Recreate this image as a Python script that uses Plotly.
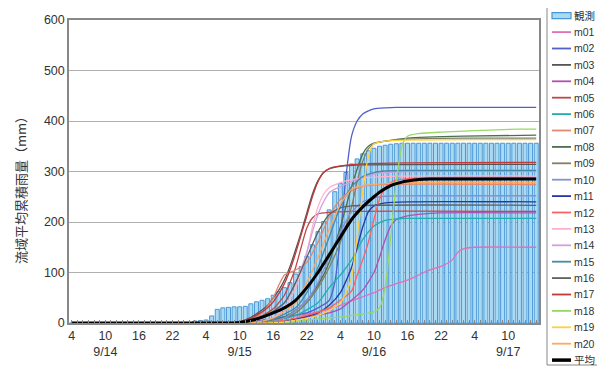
import plotly.graph_objects as go

# hours counted from 9/14 04:00, one bar per hour
hours = list(range(84))
obs = [0] * 22 + [4, 5, 6, 14, 27, 30, 31, 32, 32, 33, 38, 42, 45, 48, 55, 62, 70, 80,
                  97, 112, 132, 155, 181, 201, 224, 260, 276, 298, 315, 325, 335, 341,
                  346, 350, 352, 354, 355] + [356] * 25

tick_hours = [0, 6, 12, 18, 24, 30, 36, 42, 48, 54, 60, 66, 72, 78]
tick_text = ["4", "10<br>9/14", "16", "22", "4", "10<br>9/15", "16", "22",
             "4", "10<br>9/16", "16", "22", "4", "10<br>9/17"]

m01_t = [0, 29, 32, 36, 40, 44, 48, 50, 52, 54, 56, 58, 60, 62, 64, 66, 68, 69, 70, 72, 83]
m01_v = [0, 0, 3, 8, 14, 22, 35, 44, 52, 60, 70, 78, 85, 95, 105, 112, 125, 140, 147, 150, 150]
m02_t = [0, 30, 34, 38, 42, 44, 46, 47, 48, 49, 50, 51, 52, 53, 54, 56, 58, 83]
m02_v = [0, 0, 5, 12, 20, 30, 45, 80, 170, 290, 370, 400, 414, 420, 424, 426, 427, 427]
m03_t = [0, 29, 31, 33, 35, 36, 37, 38, 39, 40, 41, 42, 43, 44, 45, 46, 48, 52, 83]
m03_v = [0, 0, 6, 18, 35, 50, 65, 85, 112, 145, 180, 218, 255, 282, 298, 305, 310, 313, 314]
m04_t = [0, 34, 38, 42, 46, 48, 50, 52, 54, 55, 56, 57, 58, 60, 62, 66, 83]
m04_v = [0, 0, 5, 12, 20, 28, 45, 65, 100, 130, 165, 192, 205, 212, 215, 218, 218]
m05_t = [0, 30, 32, 34, 36, 38, 39, 40, 41, 42, 43, 44, 46, 50, 83]
m05_v = [0, 0, 5, 14, 28, 55, 80, 110, 150, 188, 208, 216, 219, 221, 221]
m06_t = [0, 32, 36, 40, 44, 46, 48, 50, 52, 54, 56, 58, 60, 83]
m06_v = [0, 0, 5, 15, 40, 70, 95, 125, 165, 192, 203, 206, 207, 207]
m07_t = [0, 30, 32, 34, 36, 37, 38, 40, 42, 44, 46, 48, 50, 52, 55, 83]
m07_v = [0, 0, 6, 20, 50, 75, 95, 105, 120, 160, 210, 245, 262, 270, 274, 274]
m08_t = [0, 32, 36, 38, 40, 42, 44, 46, 48, 49, 50, 51, 52, 53, 54, 56, 60, 70, 83]
m08_v = [0, 0, 5, 12, 25, 45, 75, 120, 190, 230, 270, 305, 335, 350, 356, 360, 366, 370, 372]
m09_t = [0, 34, 38, 40, 42, 44, 46, 48, 50, 51, 52, 53, 54, 56, 60, 70, 83]
m09_v = [0, 0, 10, 20, 40, 70, 110, 160, 230, 280, 320, 345, 355, 360, 364, 366, 366]
m10_t = [0, 34, 38, 40, 42, 44, 46, 48, 50, 52, 54, 56, 60, 83]
m10_v = [0, 0, 10, 25, 45, 80, 130, 180, 220, 240, 248, 251, 252, 252]
m11_t = [0, 36, 40, 44, 46, 48, 50, 51, 52, 53, 54, 56, 60, 83]
m11_v = [0, 0, 8, 20, 35, 60, 110, 150, 190, 220, 232, 238, 240, 240]
m12_t = [0, 34, 38, 42, 46, 48, 50, 51, 52, 53, 54, 55, 56, 57, 58, 60, 64, 83]
m12_v = [0, 0, 5, 15, 30, 45, 63, 95, 125, 160, 205, 245, 268, 278, 283, 286, 288, 288]
m13_t = [0, 32, 36, 38, 40, 42, 43, 44, 45, 46, 48, 50, 54, 58, 83]
m13_v = [0, 0, 10, 30, 70, 140, 190, 230, 255, 268, 278, 284, 289, 291, 291]
m14_t = [0, 31, 34, 36, 38, 40, 42, 43, 44, 45, 46, 47, 48, 50, 52, 54, 56, 60, 83]
m14_v = [0, 0, 10, 20, 40, 80, 140, 180, 215, 240, 258, 265, 270, 280, 288, 295, 298, 300, 300]
m15_t = [0, 32, 36, 40, 42, 44, 46, 48, 50, 52, 54, 56, 60, 83]
m15_v = [0, 0, 8, 30, 60, 110, 170, 230, 270, 290, 298, 301, 302, 302]
m16_t = [0, 30, 34, 38, 40, 42, 44, 46, 48, 50, 83]
m16_v = [0, 0, 10, 40, 80, 130, 180, 215, 228, 232, 233]
m17_t = [0, 29, 31, 33, 35, 36, 37, 38, 39, 40, 41, 42, 43, 44, 45, 46, 48, 52, 60, 83]
m17_v = [0, 0, 5, 15, 30, 42, 58, 78, 105, 138, 175, 212, 250, 280, 298, 306, 311, 315, 317, 318]
m18_t = [0, 36, 40, 44, 48, 50, 52, 54, 55, 56, 57, 58, 59, 60, 62, 66, 72, 80, 83]
m18_v = [0, 0, 3, 8, 12, 15, 18, 22, 30, 70, 170, 280, 350, 370, 375, 378, 381, 384, 384]
m19_t = [0, 36, 40, 44, 46, 48, 49, 50, 51, 52, 53, 54, 56, 60, 70, 83]
m19_v = [0, 0, 5, 15, 25, 40, 60, 90, 170, 260, 330, 355, 360, 362, 363, 363]
m20_t = [0, 32, 36, 40, 42, 44, 46, 48, 50, 52, 56, 60, 83]
m20_v = [0, 0, 10, 40, 80, 130, 185, 235, 265, 272, 276, 278, 278]
avg_t = [0, 28, 30, 33, 36, 38, 40, 42, 44, 46, 48, 50, 52, 54, 55, 56, 57, 58, 59, 60, 62, 64, 83]
avg_v = [0, 0, 1, 8, 20, 30, 45, 70, 100, 135, 170, 205, 230, 250, 259, 266, 272, 276, 279, 281, 284, 285, 285]

members = [
    ("m01", m01_t, m01_v, "#e070b8"), ("m02", m02_t, m02_v, "#5060c8"),
    ("m03", m03_t, m03_v, "#555555"), ("m04", m04_t, m04_v, "#b050b0"),
    ("m05", m05_t, m05_v, "#c04848"), ("m06", m06_t, m06_v, "#20b0b0"),
    ("m07", m07_t, m07_v, "#e08870"), ("m08", m08_t, m08_v, "#4a7050"),
    ("m09", m09_t, m09_v, "#808060"), ("m10", m10_t, m10_v, "#8890d0"),
    ("m11", m11_t, m11_v, "#2838a0"), ("m12", m12_t, m12_v, "#ff6060"),
    ("m13", m13_t, m13_v, "#ffb0d0"), ("m14", m14_t, m14_v, "#d0a0e0"),
    ("m15", m15_t, m15_v, "#4888a8"), ("m16", m16_t, m16_v, "#606060"),
    ("m17", m17_t, m17_v, "#c03838"), ("m18", m18_t, m18_v, "#98d868"),
    ("m19", m19_t, m19_v, "#ffd040"), ("m20", m20_t, m20_v, "#ffa860"),
]

BAR_FILL, BAR_LINE = "#a8daf2", "#4a96d6"
TEXT = "#333333"

fig = go.Figure()
fig.add_trace(go.Bar(x=hours, y=obs, name="観測", width=0.72, showlegend=False,
                     marker=dict(color=BAR_FILL, line=dict(color=BAR_LINE, width=1))))
for name, t, v, c in members:
    fig.add_trace(go.Scatter(x=t, y=v, name=name, mode="lines", showlegend=False,
                             line=dict(color=c, width=1.3, shape="spline", smoothing=0.6)))
fig.add_trace(go.Scatter(x=avg_t, y=avg_v, name="平均", mode="lines", showlegend=False,
                         line=dict(color="#000000", width=3, shape="spline", smoothing=0.6)))

# page has an 8px body margin: lay out in screen pixels, then shift into figure pixels
OFF = 8
SW, SH = 605, 367                     # screen size
SL, SR, ST, SB = 69, 539, 20, 323     # plot area edges on screen
W, H = SW - OFF, SH - OFF
L, R, T, B = SL - OFF, W - (SR - OFF), ST - OFF, H - (SB - OFF)
pw, ph = W - L - R, H - T - B


def px(xs):
    return (xs - SL) / pw


def py(ys):
    return (SB - ys) / ph


shapes = [dict(type="rect", xref="paper", yref="paper", x0=px(547), x1=px(601), y0=py(7), y1=py(365),
               line=dict(color="#888888", width=1), fillcolor="white", layer="above")]
annotations = []
entries = [("観測", None, None)] + [(n, c, 1.8) for n, _, _, c in members] + [("平均", "#000000", 3.5)]
row0, step = 15.7, 16.4
for i, (label, col, wdt) in enumerate(entries):
    yc = row0 + i * step
    if col is None:
        shapes.append(dict(type="rect", xref="paper", yref="paper", x0=px(552), x1=px(571),
                           y0=py(yc + 3), y1=py(yc - 3), fillcolor=BAR_FILL,
                           line=dict(color=BAR_LINE, width=1.2), layer="above"))
    else:
        shapes.append(dict(type="line", xref="paper", yref="paper", x0=px(552), x1=px(571),
                           y0=py(yc), y1=py(yc), line=dict(color=col, width=wdt), layer="above"))
    annotations.append(dict(xref="paper", yref="paper", x=px(572), y=py(yc), text=label,
                            showarrow=False, xanchor="left", yanchor="middle",
                            font=dict(size=10.5, color=TEXT,
                                      family="Liberation Sans, Noto Sans CJK JP")))

annotations.append(dict(xref="paper", yref="paper", x=px(20), y=py(187), text="流域平均累積雨量（mm）",
                        textangle=-90, showarrow=False, xanchor="center", yanchor="middle",
                        font=dict(size=13, color=TEXT, family="Noto Sans CJK JP")))

fig.update_layout(
    width=W, height=H,
    margin=dict(l=L, r=R, t=T, b=B, autoexpand=False),
    paper_bgcolor="white", plot_bgcolor="white",
    font=dict(family="Liberation Sans, Noto Sans CJK JP", size=12, color=TEXT),
    showlegend=False,
    bargap=0.25,
    shapes=shapes, annotations=annotations,
)
fig.update_xaxes(range=[-0.5, 83.5], tickmode="array", tickvals=tick_hours, ticktext=tick_text,
                 showline=True, linecolor="#888888", linewidth=1.5, mirror=True,
                 showgrid=False, ticks="", zeroline=False, automargin=False,
                 minor=dict(tickmode="linear", tick0=0, dtick=1, ticks="inside", ticklen=3,
                            tickcolor="#888888"),
                 tickfont=dict(size=12.5, color=TEXT))
fig.update_yaxes(range=[0, 600], dtick=100, showgrid=True, gridcolor="#b0b0b0", gridwidth=1.2,
                 showline=True, linecolor="#888888", linewidth=1.5, mirror=True, zeroline=False,
                 ticks="", automargin=False, tickfont=dict(size=12.5, color=TEXT))

fig.write_html("out.html")
